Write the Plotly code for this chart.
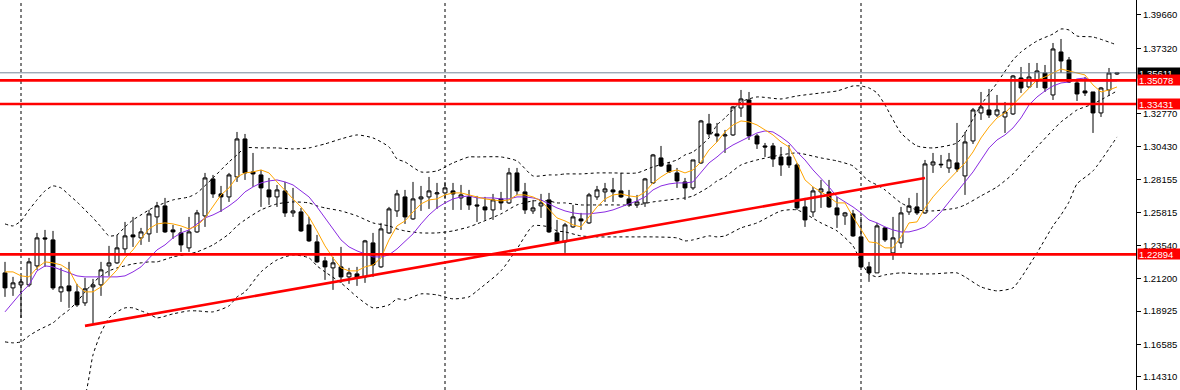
import plotly.graph_objects as go

# ---------------- data (weekly candles) ----------------
opens = [1.2160,1.2055,1.2076,1.2076,1.2209,1.2405,1.2391,1.2027,1.2069,1.2027,
         1.1950,1.2062,1.2076,1.2209,1.2230,1.2328,1.2426,1.2405,1.2433,1.2552,
         1.2629,1.2461,1.2440,1.2335,1.2447,1.2559,1.2818,1.2713,1.2692,1.2832,
         1.3098,1.2867,1.2846,1.2741,1.2692,1.2734,1.2580,1.2587,1.2496,1.2377,
         1.2244,1.2195,1.2202,1.2132,1.2153,1.2132,1.2370,1.2202,1.2440,1.2594,
         1.2692,1.2538,1.2678,1.2692,1.2713,1.2720,1.2734,1.2685,1.2692,1.2636,
         1.2622,1.2601,1.2678,1.2650,1.2860,1.2727,1.2594,1.2629,1.2671,1.2440,
         1.2377,1.2482,1.2538,1.2510,1.2692,1.2727,1.2741,1.2734,1.2678,1.2636,
         1.2650,1.2790,1.2965,1.2916,1.2860,1.2797,1.2755,1.2930,1.3203,1.3133,
         1.3119,1.3126,1.3315,1.3371,1.3119,1.3049,1.3049,1.2972,1.2972,1.2916,
         1.2622,1.2587,1.2727,1.2727,1.2615,1.2559,1.2573,1.2412,1.2202,1.2160,
         1.2475,1.2300,1.2370,1.2587,1.2622,1.2580,1.2916,1.2916,1.2895,1.2930,
         1.2839,1.3084,1.3280,1.3301,1.3266,1.3252,1.3273,1.3525,1.3462,1.3504,
         1.3560,1.3406,1.3707,1.3651,1.3490,1.3434,1.3427,1.3280,1.3441,1.3553]
highs = [1.2237,1.2132,1.2146,1.2265,1.2440,1.2461,1.2454,1.2195,1.2237,1.2083,
         1.2125,1.2118,1.2237,1.2349,1.2426,1.2517,1.2552,1.2475,1.2601,1.2657,
         1.2685,1.2496,1.2475,1.2552,1.2601,1.2860,1.2846,1.2769,1.2860,1.3147,
         1.3133,1.3000,1.2881,1.2825,1.2776,1.2797,1.2755,1.2615,1.2552,1.2426,
         1.2272,1.2272,1.2342,1.2195,1.2202,1.2391,1.2440,1.2510,1.2622,1.2741,
         1.2741,1.2797,1.2769,1.2832,1.2790,1.2797,1.2790,1.2776,1.2741,1.2699,
         1.2692,1.2713,1.2727,1.2895,1.2895,1.2790,1.2671,1.2713,1.2720,1.2531,
         1.2510,1.2636,1.2580,1.2720,1.2769,1.2790,1.2825,1.2860,1.2741,1.2706,
         1.2825,1.2993,1.3049,1.2937,1.2895,1.2825,1.2951,1.3231,1.3273,1.3210,
         1.3161,1.3329,1.3441,1.3427,1.3133,1.3070,1.3070,1.3042,1.3056,1.2930,
         1.2685,1.2762,1.2811,1.2811,1.2692,1.2587,1.2601,1.2552,1.2237,1.2510,
         1.2482,1.2552,1.2622,1.2685,1.2720,1.2951,1.3000,1.2986,1.3000,1.3210,
         1.3147,1.3315,1.3427,1.3448,1.3406,1.3357,1.3546,1.3602,1.3630,1.3630,
         1.3616,1.3770,1.3798,1.3672,1.3504,1.3532,1.3427,1.3462,1.3595,1.3567]
lows = [1.1992,1.1999,1.1845,1.2062,1.2181,1.2202,1.2041,1.1957,1.1915,1.1922,
        1.1929,1.1803,1.1999,1.2139,1.2223,1.2300,1.2342,1.2356,1.2377,1.2440,
        1.2440,1.2398,1.2307,1.2307,1.2440,1.2482,1.2685,1.2587,1.2657,1.2797,
        1.2811,1.2762,1.2622,1.2636,1.2622,1.2552,1.2552,1.2447,1.2377,1.2230,
        1.2111,1.2041,1.2090,1.2083,1.2069,1.2090,1.2132,1.2195,1.2433,1.2552,
        1.2503,1.2531,1.2594,1.2608,1.2608,1.2678,1.2601,1.2601,1.2601,1.2517,
        1.2531,1.2531,1.2601,1.2643,1.2706,1.2573,1.2573,1.2545,1.2440,1.2370,
        1.2300,1.2475,1.2461,1.2503,1.2671,1.2657,1.2657,1.2685,1.2622,1.2615,
        1.2622,1.2783,1.2902,1.2860,1.2755,1.2671,1.2741,1.2923,1.3112,1.3077,
        1.3000,1.3119,1.3252,1.3091,1.3028,1.2972,1.2902,1.2839,1.2895,1.2601,
        1.2482,1.2552,1.2615,1.2615,1.2475,1.2496,1.2412,1.2195,1.2097,1.2160,
        1.2377,1.2251,1.2335,1.2566,1.2566,1.2573,1.2860,1.2895,1.2860,1.2867,
        1.2706,1.3063,1.3231,1.3245,1.3252,1.3140,1.3266,1.3420,1.3455,1.3455,
        1.3427,1.3371,1.3560,1.3490,1.3364,1.3399,1.3140,1.3252,1.3399,1.3546]
closes = [1.2055,1.2090,1.2097,1.2237,1.2405,1.2398,1.2055,1.2062,1.2034,1.1936,
          1.2048,1.2076,1.2181,1.2230,1.2335,1.2419,1.2412,1.2447,1.2573,1.2629,
          1.2447,1.2447,1.2356,1.2447,1.2580,1.2825,1.2713,1.2692,1.2846,1.3098,
          1.2860,1.2853,1.2755,1.2692,1.2741,1.2580,1.2594,1.2454,1.2384,1.2237,
          1.2202,1.2230,1.2132,1.2160,1.2125,1.2384,1.2216,1.2468,1.2608,1.2713,
          1.2552,1.2678,1.2692,1.2734,1.2720,1.2755,1.2713,1.2706,1.2636,1.2629,
          1.2601,1.2671,1.2650,1.2860,1.2734,1.2601,1.2615,1.2650,1.2447,1.2377,
          1.2496,1.2552,1.2524,1.2706,1.2741,1.2748,1.2727,1.2692,1.2636,1.2657,
          1.2818,1.2986,1.2909,1.2867,1.2804,1.2755,1.2951,1.3224,1.3133,1.3119,
          1.3126,1.3322,1.3378,1.3119,1.3063,1.3042,1.2958,1.2916,1.2916,1.2615,
          1.2531,1.2734,1.2748,1.2622,1.2566,1.2580,1.2419,1.2202,1.2160,1.2489,
          1.2391,1.2405,1.2580,1.2629,1.2580,1.2923,1.2937,1.2920,1.2951,1.2888,
          1.3077,1.3301,1.3322,1.3266,1.3301,1.3287,1.3539,1.3455,1.3532,1.3574,
          1.3455,1.3728,1.3644,1.3497,1.3413,1.3420,1.3280,1.3455,1.3560,1.35611]
bar_index = list(range(len(closes)))

# fast moving average (orange) and slow moving average (purple), one value per bar
ma_fast = [1.2167,1.2167,1.2139,1.2132,1.2195,1.2237,1.2230,1.2216,1.2181,1.2076,
           1.2027,1.2027,1.2062,1.2118,1.2181,1.2265,1.2321,1.2398,1.2468,1.2503,
           1.2510,1.2503,1.2489,1.2468,1.2489,1.2545,1.2622,1.2706,1.2755,1.2832,
           1.2860,1.2867,1.2881,1.2860,1.2797,1.2734,1.2678,1.2622,1.2552,1.2454,
           1.2349,1.2265,1.2195,1.2174,1.2174,1.2202,1.2216,1.2265,1.2391,1.2489,
           1.2524,1.2587,1.2643,1.2671,1.2678,1.2706,1.2720,1.2720,1.2706,1.2692,
           1.2678,1.2671,1.2664,1.2671,1.2706,1.2706,1.2692,1.2664,1.2608,1.2545,
           1.2524,1.2496,1.2482,1.2552,1.2622,1.2678,1.2706,1.2713,1.2699,1.2692,
           1.2727,1.2790,1.2832,1.2867,1.2881,1.2860,1.2881,1.2937,1.3021,1.3077,
           1.3147,1.3196,1.3224,1.3217,1.3196,1.3161,1.3126,1.3077,1.3042,1.2930,
           1.2811,1.2762,1.2727,1.2692,1.2650,1.2650,1.2552,1.2461,1.2377,1.2370,
           1.2335,1.2335,1.2412,1.2510,1.2517,1.2615,1.2692,1.2755,1.2811,1.2867,
           1.2930,1.3007,1.3105,1.3182,1.3245,1.3280,1.3336,1.3399,1.3455,1.3511,
           1.3532,1.3560,1.3588,1.3574,1.3560,1.3546,1.3476,1.3427,1.3441,1.3462]
ma_slow = [1.1887,1.1957,1.2020,1.2076,1.2174,1.2209,1.2202,1.2181,1.2160,1.2139,
           1.2132,1.2132,1.2132,1.2132,1.2132,1.2139,1.2167,1.2202,1.2265,1.2321,
           1.2356,1.2405,1.2440,1.2461,1.2503,1.2545,1.2566,1.2594,1.2629,1.2671,
           1.2727,1.2762,1.2790,1.2804,1.2811,1.2797,1.2776,1.2734,1.2692,1.2622,
           1.2545,1.2461,1.2391,1.2342,1.2314,1.2293,1.2272,1.2272,1.2286,1.2328,
           1.2377,1.2433,1.2503,1.2566,1.2615,1.2650,1.2678,1.2692,1.2699,1.2685,
           1.2685,1.2685,1.2678,1.2678,1.2692,1.2692,1.2685,1.2671,1.2643,1.2615,
           1.2594,1.2580,1.2573,1.2573,1.2580,1.2587,1.2601,1.2622,1.2643,1.2664,
           1.2692,1.2741,1.2769,1.2783,1.2790,1.2790,1.2797,1.2860,1.2930,1.2972,
           1.3021,1.3056,1.3084,1.3112,1.3140,1.3154,1.3147,1.3112,1.3070,1.3007,
           1.2951,1.2881,1.2825,1.2762,1.2692,1.2657,1.2622,1.2580,1.2531,1.2510,
           1.2482,1.2461,1.2447,1.2447,1.2461,1.2482,1.2531,1.2587,1.2657,1.2720,
           1.2790,1.2867,1.2951,1.3035,1.3091,1.3126,1.3175,1.3245,1.3336,1.3392,
           1.3434,1.3469,1.3490,1.3497,1.3518,1.3525,1.3504,1.3504,1.3504,1.3504]

# Bollinger bands, read at selected bars
band_idx = [0,1,2,3,4,5,6,7,8,9,10,11,12,13,14,15,16,17,18,19,
            21,23,24,26,28,29,30,32,34,36,
            38,39,40,42,44,46,48,49,50,52,
            54,56,58,59,62,64,66,68,69,70,
            72,74,76,79,81,84,85,86,88,89,
            90,92,94,97,99,102,104,106,107,108,
            109,110,112,114,116,119,120,122,124,126,
            127,129,131,132,133,134,136,139]
band_upper = [1.2503,1.2489,1.2524,1.2601,1.2671,1.2734,1.2769,1.2755,1.2706,1.2657,
              1.2601,1.2545,1.2482,1.2419,1.2426,1.2482,1.2531,1.2566,1.2601,1.2629,
              1.2671,1.2692,1.2720,1.2825,1.2937,1.2986,1.3035,1.3035,1.3035,1.3028,
              1.3035,1.3049,1.3063,1.3098,1.3126,1.3105,1.3042,1.2958,1.2937,1.2867,
              1.2874,1.2930,1.2972,1.2972,1.2972,1.2944,1.2839,1.2846,1.2846,1.2853,
              1.2853,1.2860,1.2860,1.2860,1.2902,1.2951,1.2986,1.3007,1.3105,1.3196,
              1.3245,1.3357,1.3392,1.3378,1.3399,1.3420,1.3434,1.3469,1.3469,1.3455,
              1.3420,1.3336,1.3140,1.3049,1.3035,1.3070,1.3140,1.3336,1.3490,1.3651,
              1.3707,1.3784,1.3833,1.3868,1.3861,1.3819,1.3812,1.3756]
band_middle = [1.1677,1.1670,1.1677,1.1719,1.1754,1.1782,1.1810,1.1859,1.1901,1.1957,
               1.2027,1.2090,1.2139,1.2174,1.2195,1.2209,1.2223,1.2230,1.2237,1.2237,
               1.2272,1.2293,1.2307,1.2356,1.2433,1.2489,1.2531,1.2601,1.2643,1.2657,
               1.2650,1.2629,1.2615,1.2594,1.2559,1.2510,1.2489,1.2468,1.2454,1.2440,
               1.2440,1.2454,1.2482,1.2503,1.2573,1.2636,1.2664,1.2664,1.2650,1.2650,
               1.2636,1.2636,1.2636,1.2636,1.2657,1.2678,1.2685,1.2699,1.2762,1.2804,
               1.2832,1.2916,1.2951,1.2986,1.3000,1.2965,1.2944,1.2909,1.2853,1.2804,
               1.2776,1.2741,1.2650,1.2601,1.2594,1.2615,1.2636,1.2699,1.2762,1.2853,
               1.2916,1.3042,1.3161,1.3217,1.3259,1.3301,1.3343,1.3434]
band_lower = [1.0851,1.0851,1.0830,1.0837,1.0837,1.0830,1.0851,1.0963,1.1096,1.1257,
              1.1306,1.1586,1.1740,1.1845,1.1887,1.1915,1.1915,1.1894,1.1873,1.1845,
              1.1873,1.1894,1.1894,1.1887,1.1929,1.1992,1.2027,1.2167,1.2251,1.2286,
              1.2265,1.2209,1.2167,1.2090,1.1992,1.1915,1.1936,1.1978,1.1971,1.2013,
              1.2006,1.1978,1.1992,1.2034,1.2174,1.2328,1.2489,1.2482,1.2454,1.2447,
              1.2419,1.2412,1.2412,1.2412,1.2412,1.2405,1.2384,1.2391,1.2419,1.2412,
              1.2419,1.2475,1.2510,1.2594,1.2601,1.2510,1.2454,1.2349,1.2237,1.2153,
              1.2132,1.2146,1.2160,1.2153,1.2153,1.2160,1.2132,1.2062,1.2034,1.2055,
              1.2125,1.2300,1.2489,1.2566,1.2657,1.2783,1.2874,1.3112]

# horizontal levels, current bid, trend line and period separators
level_prices = [1.35078, 1.33431, 1.22894]
bid_price = 1.35611
trend_idx = [10, 115]
trend_price = [1.1789, 1.2825]
separator_idx = [2, 55, 107]

tick_vals = [1.39660, 1.37320, 1.32770, 1.30430, 1.28155, 1.25815,
             1.23540, 1.21200, 1.18925, 1.16585, 1.14310]
tick_text = ["1.39660", "1.37320", "1.32770", "1.30430", "1.28155", "1.25815",
             "1.23540", "1.21200", "1.18925", "1.16585", "1.14310"]

FONT = "Liberation Sans"

fig = go.Figure()

fig.add_trace(go.Candlestick(
    x=bar_index, open=opens, high=highs, low=lows, close=closes,
    increasing=dict(line=dict(color="black", width=1), fillcolor="white"),
    decreasing=dict(line=dict(color="black", width=1), fillcolor="black"),
    whiskerwidth=0, showlegend=False, hoverinfo="skip"))

for band in (band_upper, band_middle, band_lower):
    fig.add_trace(go.Scatter(
        x=band_idx, y=band, mode="lines",
        line=dict(color="black", width=1, dash="3px,3px", shape="spline", smoothing=0.6),
        showlegend=False, hoverinfo="skip"))

fig.add_trace(go.Scatter(x=bar_index, y=ma_slow, mode="lines",
                         line=dict(color="#8A2BE2", width=1),
                         showlegend=False, hoverinfo="skip"))
fig.add_trace(go.Scatter(x=bar_index, y=ma_fast, mode="lines",
                         line=dict(color="#FFA500", width=1),
                         showlegend=False, hoverinfo="skip"))

# trend line
fig.add_trace(go.Scatter(x=trend_idx, y=trend_price, mode="lines",
                         line=dict(color="#FF0000", width=2.6),
                         showlegend=False, hoverinfo="skip"))

# period separators
for s in separator_idx:
    fig.add_shape(type="line", xref="x", yref="paper", x0=s, x1=s, y0=0, y1=1,
                  line=dict(color="black", width=1, dash="3px,3px"), layer="below")

# bid line
fig.add_shape(type="line", xref="paper", yref="y", x0=0, x1=1, y0=bid_price, y1=bid_price,
              line=dict(color="#778899", width=1), layer="above")

# horizontal levels
for p in level_prices:
    fig.add_shape(type="line", xref="paper", yref="y", x0=0, x1=1, y0=p, y1=p,
                  line=dict(color="#FF0000", width=2.6), layer="above")

# price labels on the axis
label_items = [(bid_price, "black")] + [(p, "#FF0000") for p in level_prices]
for p, col in label_items:
    fig.add_annotation(x=1, xref="paper", y=p, yref="y", text=f"{p:.5f}",
                       showarrow=False, xanchor="left", yanchor="middle",
                       bgcolor=col, font=dict(family=FONT, size=9.5, color="white"),
                       width=41, height=8, align="left", valign="middle",
                       borderpad=1, xshift=1)

fig.update_layout(
    template="none",
    width=1180, height=390,
    margin=dict(l=0, r=44, t=0, b=0, pad=0),
    paper_bgcolor="white", plot_bgcolor="white",
    showlegend=False, hovermode=False,
    boxgap=0.3, boxgroupgap=0.3,
    xaxis=dict(range=[-0.625, 141.375], visible=False, showgrid=False,
               zeroline=False, rangeslider=dict(visible=False), fixedrange=True),
    yaxis=dict(range=[1.13399, 1.4071], side="right", showgrid=False, zeroline=False,
               showline=True, linecolor="black", linewidth=1,
               ticks="outside", ticklen=4, tickcolor="black", tickwidth=1,
               tickvals=tick_vals, ticktext=tick_text, automargin=False,
               tickfont=dict(family=FONT, size=9.5, color="black"), fixedrange=True),
)

fig.write_html("out.html", config={"displayModeBar": False},
               post_script="document.body.style.margin='0';document.body.style.overflow='hidden';")
